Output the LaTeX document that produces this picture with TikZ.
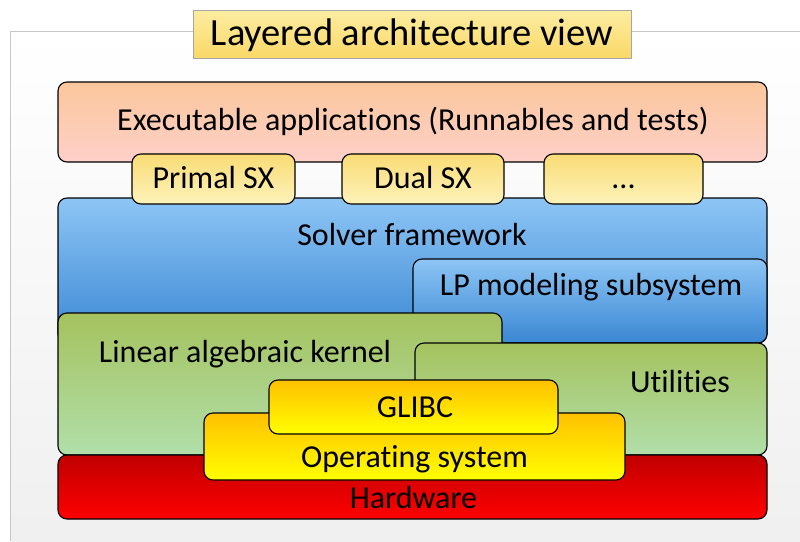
\documentclass[tikz,border=0pt]{standalone}
\usepackage{fontspec}
\setmainfont{Carlito}[Ligatures=NoCommon]
\begin{document}
\begin{tikzpicture}[x=1pt,y=-1pt,
  box/.style={draw=black, line width=1.1pt, rounded corners=9pt, inner sep=0pt},
  lbl/.style={font=\fontsize{32}{34}\selectfont, inner sep=0pt, text=black, anchor=base},
  peach/.style={box, top color=orangeA, bottom color=pinkA},
  pale/.style={box, top color=yelA, bottom color=yelB},
  blue/.style={box, top color=blueA, bottom color=blueB},
  green/.style={box, top color=greenA, bottom color=greenB},
  gold/.style={box, top color=goldA, bottom color=goldB},
  red/.style={box, top color=redA, bottom color=redB}]
\definecolor{orangeA}{HTML}{FCC79C}
\definecolor{pinkA}{HTML}{FDD0C9}
\definecolor{yelA}{HTML}{F9DC75}
\definecolor{yelB}{HTML}{FDF2BA}
\definecolor{blueA}{HTML}{8DC5F5}
\definecolor{blueB}{HTML}{3A87D3}
\definecolor{greenA}{HTML}{A5C25E}
\definecolor{greenB}{HTML}{B1DFAA}
\definecolor{goldA}{HTML}{FFC000}
\definecolor{goldB}{HTML}{FFFF00}
\definecolor{redA}{HTML}{C00000}
\definecolor{redB}{HTML}{FF0000}
\definecolor{titA}{HTML}{FDEDA2}
\definecolor{titB}{HTML}{F9D867}
\useasboundingbox (0,0) rectangle (800,541);
\fill[white] (0,0) rectangle (800,541);
\node[inner sep=0pt, minimum width=789pt, minimum height=509pt, top color=white, bottom color=black!6] (panel) at (405.5,286.5) {};
\draw[black!22, line width=0.8pt] (panel.south west) -- (panel.north west) -- (panel.north east);
\node[draw=black!35, line width=0.6pt, top color=titA, bottom color=titB, minimum width=438pt, minimum height=48pt, inner sep=0pt] (title) at (412,34) {};
\node[lbl, font=\fontsize{38.5}{41}\selectfont] (titletxt) at (412,45) {Layered architecture view};
% top layer
\node[peach, minimum width=709pt, minimum height=80pt] (app) at (412.5,122) {};
\node[lbl] (apptxt) at (413,130) {Executable applications (Runnables and tests)};
% solver framework
\node[blue, minimum width=709pt, minimum height=145pt] (solver) at (412.5,270.5) {};
\node[lbl] (solvertxt) at (412,245) {Solver framework};
\node[blue, minimum width=354pt, minimum height=84pt] (lp) at (590,301) {};
\node[lbl] (lptxt) at (591,295) {LP modeling subsystem};
% SX boxes
\node[pale, minimum width=163pt, minimum height=50pt] (primal) at (213.5,179) {};
\node[lbl] (primaltxt) at (213.5,188) {Primal SX};
\node[pale, minimum width=162pt, minimum height=50pt] (dual) at (423,179) {};
\node[lbl] (dualtxt) at (423,188) {Dual SX};
\node[pale, minimum width=159pt, minimum height=50pt] (more) at (623.5,179) {};
\node[lbl] (moretxt) at (623.5,188) {.{}.{}.};
% kernel and utilities
\node[green, minimum width=444pt, minimum height=142pt] (kernel) at (280,384) {};
\node[lbl] (kerneltxt) at (245,362) {Linear algebraic kernel};
\node[green, minimum width=352pt, minimum height=112pt] (util) at (591,399) {};
\node[lbl] (utiltxt) at (680,392) {Utilities};
% hardware, OS, GLIBC
\node[red, minimum width=709pt, minimum height=64pt] (hw) at (412.5,487) {};
\node[lbl] (hwtxt) at (413.5,508) {Hardware};
\node[gold, minimum width=421pt, minimum height=67pt] (os) at (414.5,446.5) {};
\node[lbl] (ostxt) at (414.5,467) {Operating system};
\node[gold, minimum width=289pt, minimum height=54pt] (glibc) at (413.5,407) {};
\node[lbl] (glibctxt) at (415,417) {GLIBC};
\end{tikzpicture}
\end{document}
